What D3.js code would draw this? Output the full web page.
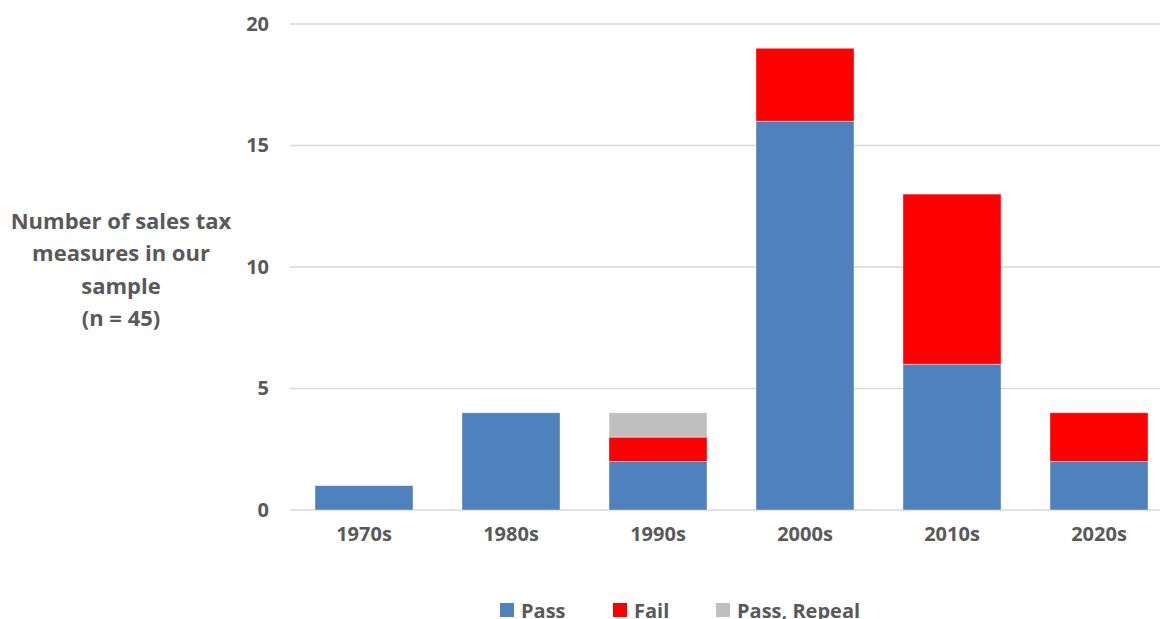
<!DOCTYPE html>
<html>
<head>
<meta charset="utf-8">
<script src="https://cdn.jsdelivr.net/npm/d3@7"></script>
<style>
  body { margin: 0; background: #fff; }
  text { font-family: "Open Sans", Lato, sans-serif; font-weight: bold; fill: #595959; }
</style>
</head>
<body>
<div id="chart"></div>
<script>
// decades and counts per outcome
var decades = ["1970s", "1980s", "1990s", "2000s", "2010s", "2020s"];
var pass = [1, 4, 2, 16, 6, 2];
var fail = [0, 0, 1, 3, 7, 2];
var passRepeal = [0, 0, 1, 0, 0, 0];
var yTicks = [0, 5, 10, 15, 20];
var seriesNames = ["Pass", "Fail", "Pass, Repeal"];
var colours = ["#4f81bd", "#ff0000", "#bfbfbf"];

var width = 1160, height = 619;

var svg = d3.select("#chart")
  .append("svg")
  .attr("width", width)
  .attr("height", height);

var table = decades.map(function (d, i) {
  return { decade: d, "Pass": pass[i], "Fail": fail[i], "Pass, Repeal": passRepeal[i] };
});

var x = d3.scaleBand()
  .domain(decades)
  .range([290.5, 1172.5])
  .paddingInner(1 / 3)
  .paddingOuter(1 / 6);

var y = d3.scaleLinear()
  .domain([0, 20])
  .range([510, 24]);

// gridlines
svg.append("g")
  .selectAll("line")
  .data(yTicks)
  .enter()
  .append("line")
  .attr("x1", 290)
  .attr("x2", width)
  .attr("y1", function (d) { return y(d); })
  .attr("y2", function (d) { return y(d); })
  .attr("stroke", "#d9d9d9")
  .attr("stroke-width", 1.5);

// y axis labels
var yAxis = svg.append("g")
  .attr("transform", "translate(269,0)")
  .call(d3.axisLeft(y).tickValues(yTicks).tickSize(0).tickPadding(0));
yAxis.select(".domain").remove();
yAxis.selectAll("text")
  .style("font-size", "20px")
  .style("font-family", "'Open Sans', sans-serif")
  .attr("fill", "#595959");

// stacked bars
var stack = d3.stack().keys(seriesNames)(table);

svg.append("g")
  .selectAll("g")
  .data(stack)
  .enter()
  .append("g")
  .attr("fill", function (d, i) { return colours[i]; })
  .selectAll("rect")
  .data(function (d) { return d; })
  .enter()
  .append("rect")
  .attr("x", function (d) { return x(d.data.decade); })
  .attr("width", x.bandwidth())
  .attr("y", function (d) { return y(d[1]); })
  .attr("height", function (d) { return y(d[0]) - y(d[1]); })
  .attr("stroke", "#ffffff")
  .attr("stroke-opacity", 0.5)
  .attr("stroke-width", 0.75);

// x axis labels
var xAxis = svg.append("g")
  .attr("transform", "translate(0,527)")
  .call(d3.axisBottom(x).tickSize(0).tickPadding(0));
xAxis.select(".domain").remove();
xAxis.selectAll("text")
  .style("font-size", "20px")
  .style("font-family", "'Open Sans', sans-serif")
  .attr("fill", "#595959");

// y axis title
var titleLines = ["Number of sales tax", "measures in our", "sample", "(n = 45)"];
svg.append("text")
  .attr("text-anchor", "middle")
  .style("font-size", "22px")
  .selectAll("tspan")
  .data(titleLines)
  .enter()
  .append("tspan")
  .attr("x", 121)
  .attr("y", function (d, i) { return 229 + i * 32.3; })
  .text(function (d) { return d; });

// legend
var legendX = [500, 613, 716];
var legend = svg.append("g")
  .selectAll("g")
  .data(seriesNames)
  .enter()
  .append("g")
  .attr("transform", function (d, i) { return "translate(" + legendX[i] + ",603)"; });

legend.append("rect")
  .attr("width", 14)
  .attr("height", 14)
  .attr("fill", function (d, i) { return colours[i]; });

legend.append("text")
  .attr("x", 21)
  .attr("y", 15)
  .style("font-size", "20px")
  .text(function (d) { return d; });
</script>
</body>
</html>
